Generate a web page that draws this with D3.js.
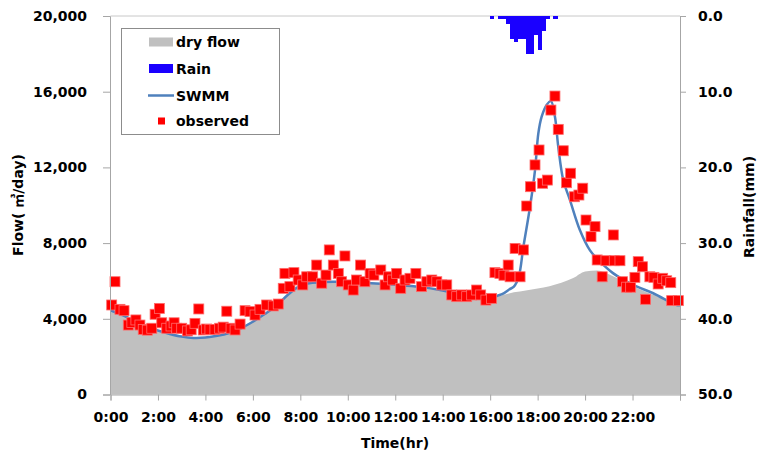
<html>
<head>
  <script src="https://d3js.org/d3.v7.min.js"></script>
  <style>
    body { margin: 0; background: #fff; }
    text { font-family: "DejaVu Sans", "Noto Sans CJK KR", sans-serif; font-weight: bold; }
  </style>
</head>
<body>
<svg id="chart" width="757" height="456"></svg>
<script>
  // dry weather flow (m3/day) by hour
  const dryTime = [0, 0.5, 1, 1.5, 2, 2.5, 3, 3.5, 4, 4.5, 5, 5.5, 6, 6.5, 7, 7.5, 8, 8.5, 9, 9.5, 10, 11, 12, 13, 14, 14.5, 15, 15.5, 16, 16.5, 17, 17.5, 18, 18.5, 19, 19.5, 20, 20.5, 21, 21.5, 22, 22.5, 23, 23.5, 24];
  const dryFlow = [4450, 4200, 3900, 3600, 3380, 3200, 3060, 2990, 3010, 3100, 3250, 3500, 3850, 4250, 4700, 5300, 5750, 5900, 5950, 5960, 5920, 5880, 5800, 5700, 5500, 5350, 5200, 5080, 5100, 5250, 5400, 5500, 5600, 5720, 5900, 6150, 6500, 6550, 6350, 6050, 5750, 5450, 5200, 4950, 4750];

  // SWMM simulated flow
  const swmmTime = [0, 0.5, 1, 1.5, 2, 2.5, 3, 3.5, 4, 4.5, 5, 5.5, 6, 6.5, 7, 7.5, 8, 8.5, 9, 9.5, 10, 11, 12, 13, 14, 14.5, 15, 15.5, 16, 16.5, 16.8, 17.0, 17.2, 17.4, 17.68, 17.89, 18.03, 18.17, 18.38, 18.56, 18.73, 18.87, 19.08, 19.36, 19.78, 20.2, 20.63, 21.19, 22.03, 22.87, 23.86, 24];
  const swmmFlow = [4450, 4200, 3900, 3600, 3380, 3200, 3060, 2990, 3010, 3100, 3250, 3500, 3850, 4250, 4700, 5300, 5750, 5900, 5950, 5960, 5920, 5880, 5800, 5700, 5500, 5350, 5200, 5080, 5120, 5300, 5550, 5700, 6200, 7800, 9920, 11860, 13800, 14680, 15300, 15500, 14680, 13090, 11330, 10280, 8690, 7630, 7020, 6400, 5790, 5350, 4730, 4720];

  // rainfall (mm per 10 min), left edge of each interval in hours
  const rainTime = [16.0, 16.333, 16.5, 16.667, 16.833, 17.0, 17.167, 17.333, 17.5, 17.667, 17.833, 18.0, 18.167, 18.333, 18.667];
  const rainMm = [0.4, 0.4, 0.4, 1.0, 3.0, 3.5, 3.0, 3.0, 5.0, 5.0, 2.5, 4.5, 2.0, 0.4, 0.4];

  // observed flow [hour, m3/day]
  const observed = [
    [0.05, 4730], [0.19, 5960], [0.4, 4500], [0.57, 4430], [0.75, 3670], [0.9, 3800], [1.07, 3940], [1.24, 3670],
    [1.38, 3440], [1.55, 3400], [1.74, 3500], [1.88, 4240], [2.06, 4550], [2.16, 3790], [2.37, 3500], [2.55, 3620],
    [2.68, 3790], [2.79, 3500], [3.0, 3500], [3.24, 3360], [3.4, 3420], [3.56, 3760], [3.72, 4520], [3.91, 3410],
    [4.05, 3460], [4.19, 3440], [4.4, 3440], [4.6, 3500], [4.75, 3560], [4.9, 4400], [5.08, 3500], [5.25, 3410],
    [5.46, 3720], [5.67, 4430], [5.88, 4380], [6.09, 4200], [6.3, 4500], [6.58, 4730], [6.86, 4680], [7.07, 4780],
    [7.28, 5610], [7.35, 6400], [7.56, 5700], [7.73, 6440], [7.91, 6050], [8.1, 5790], [8.27, 6220], [8.52, 6220],
    [8.69, 6840], [8.9, 5880], [9.08, 6310], [9.22, 7640], [9.39, 6840], [9.6, 6400], [9.74, 5960], [9.88, 7320],
    [10.02, 5790], [10.23, 5520], [10.37, 6050], [10.54, 6840], [10.72, 5960], [10.94, 6400], [11.1, 6310], [11.39, 6580],
    [11.57, 5790], [11.71, 6220], [11.89, 6050], [12.06, 6400], [12.23, 5610], [12.41, 6050], [12.62, 6140], [12.87, 6400],
    [13.11, 5700], [13.33, 5960], [13.54, 6050], [13.75, 5960], [13.96, 5790], [14.17, 5790], [14.38, 5260], [14.59, 5170],
    [14.8, 5260], [15.01, 5170], [15.22, 5260], [15.43, 5520], [15.6, 5260], [15.82, 4990], [16.06, 5080], [16.2, 6440],
    [16.41, 6400], [16.58, 6300], [16.76, 6840], [16.84, 6220], [17.05, 7720], [17.26, 6220], [17.4, 7640], [17.54, 9960],
    [17.7, 10980], [17.89, 12130], [18.06, 12920], [18.21, 11160], [18.41, 11330], [18.56, 15030], [18.73, 15770], [18.87, 14010],
    [19.08, 12880], [19.22, 11190], [19.39, 11690], [19.55, 10450], [19.74, 10540], [19.9, 10900], [20.04, 9220], [20.25, 8340],
    [20.42, 8870], [20.51, 7110], [20.72, 6220], [20.88, 7070], [21.19, 8430], [21.23, 7070], [21.47, 7070], [21.58, 5960],
    [21.75, 5670], [21.92, 5670], [22.1, 6190], [22.24, 7020], [22.42, 6750], [22.55, 5030], [22.73, 6220], [22.9, 6190],
    [23.08, 5840], [23.27, 6140], [23.44, 6010], [23.61, 5910], [23.65, 4960], [23.93, 4960]
  ];

  const flowTicks = [0, 4000, 8000, 12000, 16000, 20000];
  const rainTicks = [0, 10, 20, 30, 40, 50];
  const hourTicks = [0, 2, 4, 6, 8, 10, 12, 14, 16, 18, 20, 22, 24];

  const svg = d3.select("#chart");
  const axisColor = "#a6a6a6";

  const x = d3.scaleLinear().domain([0, 24]).range([110.5, 680]);
  const y = d3.scaleLinear().domain([0, 20000]).range([394.5, 16]);
  const yr = d3.scaleLinear().domain([0, 50]).range([16, 394.5]);

  // dry flow area
  const dry = dryTime.map((t, i) => [t, dryFlow[i]]);
  svg.append("path")
    .datum(dry)
    .attr("fill", "#c0c0c0")
    .attr("d", d3.area().curve(d3.curveMonotoneX)
      .x(d => x(d[0])).y0(y(0)).y1(d => y(d[1])));

  // top border line
  svg.append("line")
    .attr("x1", x(0)).attr("x2", x(24))
    .attr("y1", y(20000)).attr("y2", y(20000))
    .attr("stroke", "#c8c8c8");

  // rain bars hanging from the top
  svg.selectAll("rect.rain").data(rainTime)
    .join("rect")
    .attr("class", "rain")
    .attr("x", d => x(d))
    .attr("width", d => x(d + 1 / 6) - x(d) + 0.3)
    .attr("y", yr(0))
    .attr("height", (d, i) => yr(rainMm[i]) - yr(0))
    .attr("fill", "#1a00ff")
    .attr("shape-rendering", "crispEdges");

  // SWMM line
  const swmm = swmmTime.map((t, i) => [t, swmmFlow[i]]);
  svg.append("path")
    .datum(swmm)
    .attr("fill", "none")
    .attr("stroke", "#4f81bd")
    .attr("stroke-width", 2.5)
    .attr("d", d3.line().curve(d3.curveCatmullRom)
      .x(d => x(d[0])).y(d => y(d[1])));

  // observed points
  svg.selectAll("rect.obs").data(observed)
    .join("rect")
    .attr("class", "obs")
    .attr("x", d => x(d[0]) - 5)
    .attr("y", d => y(d[1]) - 5)
    .attr("width", 10).attr("height", 10)
    .attr("fill", "#ff0000")
    .attr("stroke", "#ff6a6a")
    .attr("stroke-width", 0.8);

  // axes
  const left = svg.append("g")
    .attr("transform", `translate(${x(0) - 0.5},0)`)
    .call(d3.axisLeft(y).tickValues(flowTicks).tickSize(7).tickPadding(16).tickFormat(d3.format(",")));
  const right = svg.append("g")
    .attr("transform", `translate(${x(24)},0)`)
    .call(d3.axisRight(yr).tickValues(rainTicks).tickSize(6).tickPadding(12).tickFormat(d3.format(".1f")));
  const bottom = svg.append("g")
    .attr("transform", `translate(0,${y(0)})`)
    .call(d3.axisBottom(x).tickValues(hourTicks).tickSize(6).tickPadding(12)
      .tickFormat(d => d < 24 ? d + ":00" : ""));

  [left, right, bottom].forEach(g => {
    g.selectAll("path, line").attr("stroke", axisColor);
    g.selectAll("text").attr("font-size", 14).attr("fill", "#000")
      .attr("font-family", "DejaVu Sans").attr("font-weight", "bold");
  });

  // axis titles
  svg.append("text")
    .attr("transform", "translate(23,205) rotate(-90)")
    .attr("text-anchor", "middle")
    .attr("font-size", 14)
    .text("Flow( ㎥/day)");
  svg.append("text")
    .attr("transform", "translate(754,207) rotate(-90)")
    .attr("text-anchor", "middle")
    .attr("font-size", 14)
    .text("Rainfall(mm)");
  svg.append("text")
    .attr("x", 395).attr("y", 448)
    .attr("text-anchor", "middle")
    .attr("font-size", 14)
    .text("Time(hr)");

  // legend
  const legend = svg.append("g");
  legend.append("rect")
    .attr("x", 121.5).attr("y", 28.5).attr("width", 158).attr("height", 106)
    .attr("fill", "#fff").attr("stroke", "#8c8c8c");
  const items = ["dry flow", "Rain", "SWMM", "observed"];
  const rowY = [42, 68.5, 95.5, 121];
  items.forEach((name, i) => {
    const cy = rowY[i];
    if (i === 0 || i === 1) {
      legend.append("rect")
        .attr("x", 149).attr("y", cy - 4.5).attr("width", 24).attr("height", 9)
        .attr("fill", i === 0 ? "#c0c0c0" : "#1a00ff");
    } else if (i === 2) {
      legend.append("line")
        .attr("x1", 148).attr("x2", 174).attr("y1", cy).attr("y2", cy)
        .attr("stroke", "#4f81bd").attr("stroke-width", 2.5);
    } else {
      legend.append("rect")
        .attr("x", 158).attr("y", cy - 3.5).attr("width", 7).attr("height", 7)
        .attr("fill", "#ff0000");
    }
    legend.append("text")
      .attr("x", 176).attr("y", cy + 5)
      .attr("font-size", 14)
      .text(name);
  });
</script>
</body>
</html>
